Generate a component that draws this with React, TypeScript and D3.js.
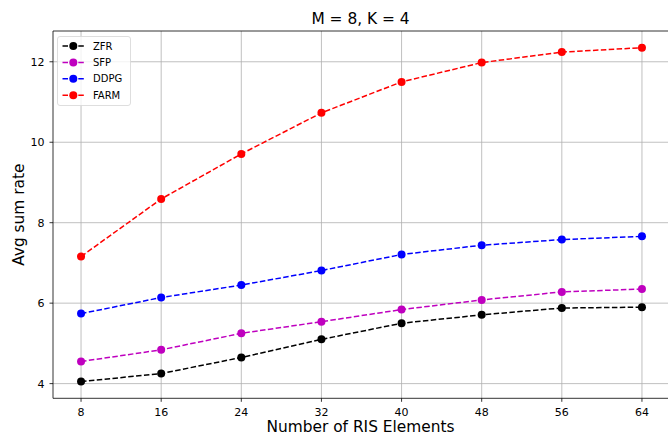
import React from "react";
import * as d3 from "d3";

const xValues = [8, 16, 24, 32, 40, 48, 56, 64];
const zfr = [4.05, 4.25, 4.65, 5.1, 5.5, 5.71, 5.88, 5.9];
const sfp = [4.55, 4.84, 5.25, 5.54, 5.84, 6.08, 6.28, 6.35];
const ddpg = [5.74, 6.14, 6.45, 6.81, 7.21, 7.44, 7.58, 7.66];
const farm = [7.16, 8.59, 9.71, 10.73, 11.5, 11.98, 12.24, 12.35];
const seriesNames = ["ZFR", "SFP", "DDPG", "FARM"];
const seriesColors = ["#000000", "#bf00bf", "#0000ff", "#ff0000"];
const yTicks = [4, 6, 8, 10, 12];

const W = 668, H = 436;
const m = { left: 53, right: 670, top: 31, bottom: 398.3 };

export default function App() {
  const x = d3.scaleLinear().domain([5.2, 66.8]).range([m.left, m.right]);
  const y = d3.scaleLinear().domain([3.635, 12.765]).range([m.bottom, m.top]);
  const series = [zfr, sfp, ddpg, farm];
  const line = d3.line<number>().x((_, i) => x(xValues[i])).y((d) => y(d));
  const font = "DejaVu Sans, sans-serif";
  return (
    <svg width={W} height={H} style={{ position: "absolute", left: 0, top: 0, background: "#fff" }}>
      <rect width={W} height={H} fill="#fff" />
      <defs>
        <clipPath id="plot">
          <rect x={m.left} y={m.top} width={m.right - m.left} height={m.bottom - m.top} />
        </clipPath>
      </defs>
      {xValues.map((v) => (
        <line key={"gx" + v} x1={x(v)} x2={x(v)} y1={m.top} y2={m.bottom} stroke="#b0b0b0" strokeWidth={0.8} />
      ))}
      {yTicks.map((v) => (
        <line key={"gy" + v} x1={m.left} x2={m.right} y1={y(v)} y2={y(v)} stroke="#b0b0b0" strokeWidth={0.8} />
      ))}
      <g clipPath="url(#plot)">
        {series.map((s, k) => (
          <g key={seriesNames[k]}>
            <path d={line(s) || ""} fill="none" stroke={seriesColors[k]} strokeWidth={1.5} strokeDasharray="5.5,2.4" />
            {s.map((v, i) => (
              <circle key={i} cx={x(xValues[i])} cy={y(v)} r={4} fill={seriesColors[k]} />
            ))}
          </g>
        ))}
      </g>
      <line x1={m.left} x2={m.left} y1={m.top} y2={m.bottom} stroke="#000" strokeWidth={0.8} />
      <line x1={m.left} x2={m.right} y1={m.bottom} y2={m.bottom} stroke="#000" strokeWidth={0.8} />
      <line x1={m.left} x2={m.right} y1={m.top} y2={m.top} stroke="#000" strokeWidth={0.8} />
      {xValues.map((v) => (
        <g key={"tx" + v}>
          <line x1={x(v)} x2={x(v)} y1={m.bottom} y2={m.bottom + 3.5} stroke="#000" strokeWidth={0.8} />
          <text x={x(v)} y={m.bottom + 17.2} textAnchor="middle" fontSize={11} fontFamily={font} fill="#000">
            {v}
          </text>
        </g>
      ))}
      {yTicks.map((v) => (
        <g key={"ty" + v}>
          <line x1={m.left - 3.5} x2={m.left} y1={y(v)} y2={y(v)} stroke="#000" strokeWidth={0.8} />
          <text x={m.left - 8.5} y={y(v) + 4} textAnchor="end" fontSize={11} fontFamily={font} fill="#000">
            {v}
          </text>
        </g>
      ))}
      <text x={(m.left + 668) / 2} y={24} textAnchor="middle" fontSize={15.4} fontFamily={font} fill="#000">
        M = 8, K = 4
      </text>
      <text x={(m.left + 668) / 2} y={432.2} textAnchor="middle" fontSize={15.4} fontFamily={font} fill="#000">
        Number of RIS Elements
      </text>
      <text
        transform={`translate(23.5, ${(m.top + m.bottom) / 2}) rotate(-90)`}
        textAnchor="middle"
        fontSize={15.4}
        fontFamily={font}
        fill="#000"
      >
        Avg sum rate
      </text>
      <rect x={57.5} y={36.5} width={73} height={69} rx={2.5} fill="#fff" fillOpacity={0.8} stroke="#d6d6d6" strokeWidth={0.8} />
      {seriesNames.map((n, k) => {
        const ly = 46 + k * 16.4;
        return (
          <g key={"lg" + n}>
            <line x1={62.5} x2={84} y1={ly} y2={ly} stroke={seriesColors[k]} strokeWidth={1.5} strokeDasharray="5.5,2.4" />
            <circle cx={73.3} cy={ly} r={4} fill={seriesColors[k]} />
            <text x={93} y={ly + 3.6} fontSize={10} fontFamily={font} fill="#000">
              {n}
            </text>
          </g>
        );
      })}
    </svg>
  );
}
